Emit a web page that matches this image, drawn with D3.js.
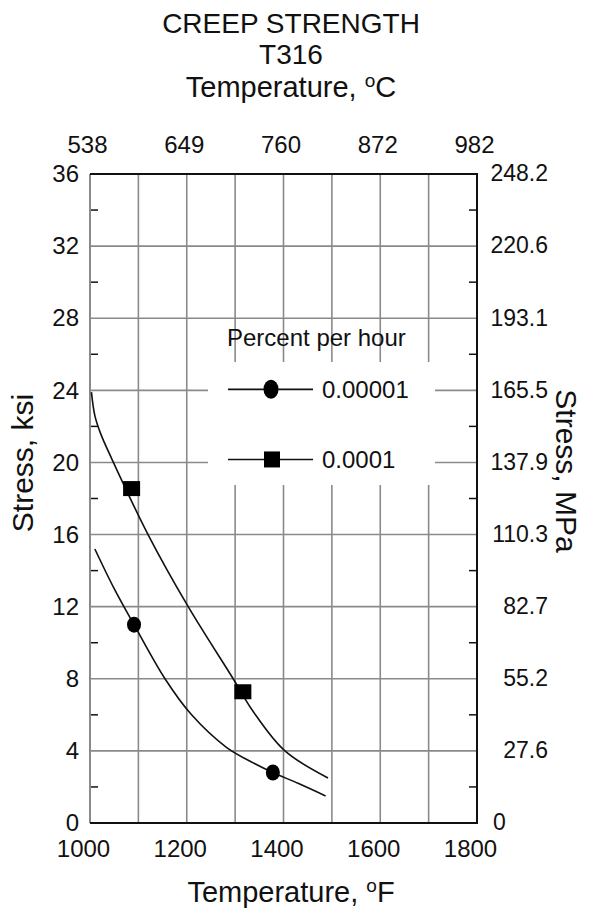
<!DOCTYPE html>
<html>
<head>
    <meta charset="utf-8">
    <title>Creep strength T316</title>
    <script src="https://d3js.org/d3.v7.min.js"></script>
    <style>
        * { margin: 0; padding: 0; }
        body { background: #fff; }
        text { font-family: "Liberation Sans", Arial, sans-serif; fill: #111; }
    </style>
</head>
<body>
    <div id="chart"></div>
    <script>
        // ---- data ----
        var tempF = [1000, 1200, 1400, 1600, 1800];
        var tempC = ["538", "649", "760", "872", "982"];
        var gridF = [1100, 1200, 1300, 1400, 1500, 1600, 1700];
        var ksiTicks = [0, 4, 8, 12, 16, 20, 24, 28, 32, 36];
        var ksiMinor = [2, 6, 10, 14, 18, 22, 26, 30, 34];
        var mpaLabels = ["0", "27.6", "55.2", "82.7", "110.3", "137.9", "165.5", "193.1", "220.6", "248.2"];

        // 0.00001 percent per hour
        var lowTemp = [1010, 1050, 1091, 1155, 1210, 1282, 1340, 1378, 1430, 1487];
        var lowStress = [15.2, 13.0, 11.0, 8.0, 6.0, 4.2, 3.3, 2.8, 2.2, 1.5];
        var lowPtsTemp = [1091, 1378];
        var lowPtsStress = [11.0, 2.8];

        // 0.0001 percent per hour
        var highTemp = [1003, 1010, 1022, 1045, 1120, 1203, 1296, 1337, 1403, 1492];
        var highStress = [23.9, 22.6, 21.6, 20.2, 16, 12, 8, 6.2, 4, 2.5];
        var highPtsTemp = [1086, 1316];
        var highPtsStress = [18.55, 7.28];

        var W = 589, H = 909;
        var plotL = 90, plotR = 477, plotT = 174, plotB = 823;

        var svg = d3.select("#chart").append("svg")
            .attr("width", W).attr("height", H);

        var x = d3.scaleLinear().domain([1000, 1800]).range([plotL, plotR]);
        var y = d3.scaleLinear().domain([0, 36]).range([plotB, plotT]);

        var grey = "#8a8a8a";

        // grid
        svg.append("g").selectAll("line").data(gridF).enter().append("line")
            .attr("x1", function (d) { return x(d); }).attr("x2", function (d) { return x(d); })
            .attr("y1", plotT).attr("y2", plotB)
            .attr("stroke", grey).attr("stroke-width", 1.6);
        svg.append("g").selectAll("line").data(ksiTicks.slice(1, -1)).enter().append("line")
            .attr("x1", plotL).attr("x2", plotR)
            .attr("y1", function (d) { return y(d); }).attr("y2", function (d) { return y(d); })
            .attr("stroke", grey).attr("stroke-width", 1.6);

        // minor ticks on both sides
        svg.append("g").selectAll("line").data(ksiMinor).enter().append("line")
            .attr("x1", plotL).attr("x2", plotL + 8)
            .attr("y1", function (d) { return y(d); }).attr("y2", function (d) { return y(d); })
            .attr("stroke", "#111").attr("stroke-width", 1.5);
        svg.append("g").selectAll("line").data(ksiMinor).enter().append("line")
            .attr("x1", plotR - 8).attr("x2", plotR)
            .attr("y1", function (d) { return y(d); }).attr("y2", function (d) { return y(d); })
            .attr("stroke", "#111").attr("stroke-width", 1.5);

        // frame: left grey, others black
        svg.append("line").attr("x1", plotL).attr("x2", plotL).attr("y1", plotT).attr("y2", plotB)
            .attr("stroke", grey).attr("stroke-width", 2);
        svg.append("path")
            .attr("d", "M" + plotL + "," + plotT + "H" + plotR + "V" + plotB + "H" + plotL)
            .attr("fill", "none").attr("stroke", "#111").attr("stroke-width", 2);

        // axes labels
        var bottomAxis = svg.append("g")
            .attr("transform", "translate(0," + plotB + ")")
            .call(d3.axisBottom(x).tickValues(tempF).tickSize(0).tickPadding(17).tickFormat(d3.format("d")));
        bottomAxis.select(".domain").remove();
        bottomAxis.attr("font-family", null).attr("font-size", null);
        bottomAxis.selectAll("text").attr("dx", -7).style("font-size", "24px");

        var topAxis = svg.append("g")
            .attr("transform", "translate(0," + plotT + ")")
            .call(d3.axisTop(x).tickValues(tempF).tickSize(0).tickPadding(21)
                .tickFormat(function (d, i) { return tempC[i]; }));
        topAxis.select(".domain").remove();
        topAxis.attr("font-family", null).attr("font-size", null);
        topAxis.selectAll("text").attr("dx", -3).style("font-size", "24px");

        var leftAxis = svg.append("g")
            .attr("transform", "translate(" + plotL + ",0)")
            .call(d3.axisLeft(y).tickValues(ksiTicks).tickSize(0).tickPadding(11));
        leftAxis.select(".domain").remove();
        leftAxis.attr("font-family", null).attr("font-size", null);
        leftAxis.selectAll("text").style("font-size", "24px");

        svg.append("g").selectAll("text").data(ksiTicks).enter().append("text")
            .attr("x", function (d, i) { return mpaLabels[i] === "0" ? plotR + 16 : 548; })
            .attr("y", function (d) { return y(d); })
            .attr("dy", "0.32em")
            .attr("text-anchor", function (d, i) { return mpaLabels[i] === "0" ? "start" : "end"; })
            .style("font-size", "23px")
            .text(function (d, i) { return mpaLabels[i]; });

        // titles
        var mid = 291;
        svg.append("text").attr("x", mid).attr("y", 33).attr("text-anchor", "middle")
            .style("font-size", "28px").text("CREEP STRENGTH");
        svg.append("text").attr("x", mid).attr("y", 64).attr("text-anchor", "middle")
            .style("font-size", "28px").text("T316");
        var tC = svg.append("text").attr("x", mid).attr("y", 97).attr("text-anchor", "middle")
            .style("font-size", "29px");
        tC.append("tspan").text("Temperature, ");
        tC.append("tspan").attr("dy", -10).style("font-size", "19px").text("o");
        tC.append("tspan").attr("dy", 10).text("C");

        var tF = svg.append("text").attr("x", mid).attr("y", 902).attr("text-anchor", "middle")
            .style("font-size", "29px");
        tF.append("tspan").text("Temperature, ");
        tF.append("tspan").attr("dy", -10).style("font-size", "19px").text("o");
        tF.append("tspan").attr("dy", 10).text("F");

        svg.append("text").attr("transform", "translate(33,463) rotate(-90)")
            .attr("text-anchor", "middle").style("font-size", "30px").text("Stress, ksi");
        svg.append("text").attr("transform", "translate(556,471) rotate(90)")
            .attr("text-anchor", "middle").style("font-size", "30px").text("Stress, MPa");

        // legend background hides the grid
        svg.append("rect").attr("x", 208).attr("y", 362).attr("width", 227).attr("height", 123)
            .attr("fill", "#fff");
        svg.append("text").attr("x", 227).attr("y", 346).style("font-size", "24px").text("Percent per hour");

        // curves
        var line = d3.line()
            .x(function (d) { return x(d[0]); })
            .y(function (d) { return y(d[1]); })
            .curve(d3.curveCatmullRom.alpha(0.5));

        svg.append("path").datum(d3.zip(lowTemp, lowStress))
            .attr("d", line).attr("fill", "none").attr("stroke", "#111").attr("stroke-width", 1.6);
        svg.append("path").datum(d3.zip(highTemp, highStress))
            .attr("d", line).attr("fill", "none").attr("stroke", "#111").attr("stroke-width", 1.6);

        svg.append("g").selectAll("ellipse").data(d3.zip(lowPtsTemp, lowPtsStress)).enter()
            .append("ellipse")
            .attr("cx", function (d) { return x(d[0]); })
            .attr("cy", function (d) { return y(d[1]); })
            .attr("rx", 7).attr("ry", 8).attr("fill", "#000");
        svg.append("g").selectAll("rect").data(d3.zip(highPtsTemp, highPtsStress)).enter()
            .append("rect")
            .attr("x", function (d) { return x(d[0]) - 8.5; })
            .attr("y", function (d) { return y(d[1]) - 7.5; })
            .attr("width", 17).attr("height", 15).attr("fill", "#000");

        // legend rows
        var rows = [{ label: "0.00001", shape: "circle", v: 24 }, { label: "0.0001", shape: "square", v: 20 }];
        rows.forEach(function (r, i) {
            var ly = y(r.v) - (i === 0 ? 1 : 3);
            svg.append("line").attr("x1", 228).attr("x2", 313).attr("y1", ly).attr("y2", ly)
                .attr("stroke", "#111").attr("stroke-width", 1.6);
            if (r.shape === "circle") {
                svg.append("ellipse").attr("cx", 271).attr("cy", ly).attr("rx", 7.5).attr("ry", 9.5).attr("fill", "#000");
            } else {
                svg.append("rect").attr("x", 264).attr("y", ly - 8).attr("width", 16).attr("height", 16).attr("fill", "#000");
            }
            svg.append("text").attr("x", 322).attr("y", ly).attr("dy", "0.35em")
                .style("font-size", "24px").text(r.label);
        });
    </script>
</body>
</html>
